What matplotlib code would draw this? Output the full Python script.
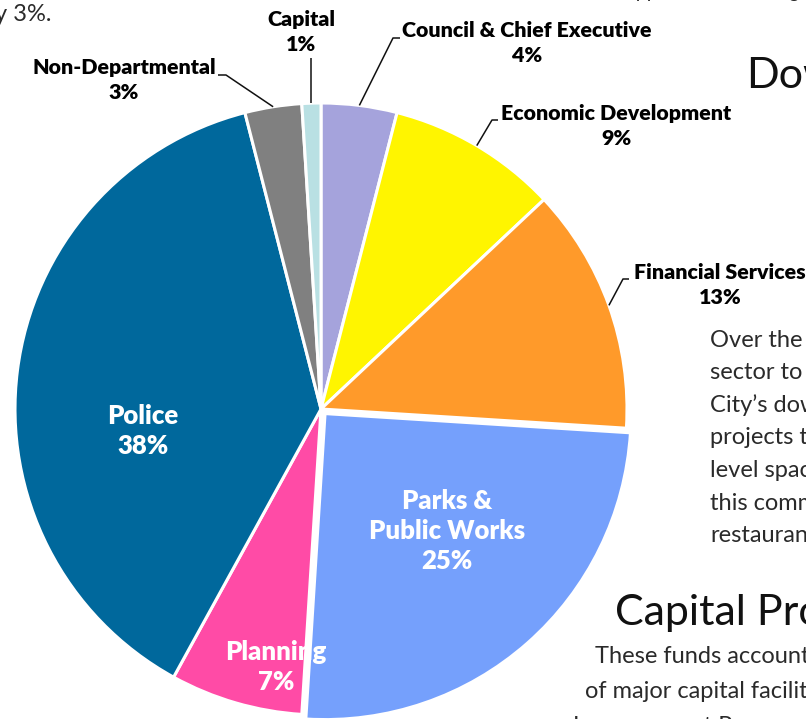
import math
import matplotlib
matplotlib.use("Agg")
import matplotlib.pyplot as plt

# Department share of the general fund budget (percent)
departments = ["Council & Chief Executive", "Economic Development", "Financial Services",
               "Parks &\nPublic Works", "Planning", "Police", "Non-Departmental", "Capital"]
shares = [4, 9, 13, 25, 7, 38, 3, 1]

colors = ["#A5A3DC", "#FFF500", "#FF9A2A", "#75A0FC", "#FF4BA6", "#00689C", "#808080", "#B9E0E3"]
explode = [0, 0, 0, 0.02, 0, 0, 0, 0]

# Canvas geometry (pixels): pie centre and radius
W, H = 806, 719
CX, CY, R = 321, 409, 306


def px(x, y):
    """Pixel position (from top-left) -> data coordinates of the pie axes."""
    return (x - CX) / R, (CY - y) / R


fig = plt.figure(figsize=(W / 100, H / 100), dpi=100)
ax = fig.add_axes([0, 0, 1, 1])

wedges, _ = ax.pie(shares, colors=colors, startangle=90, counterclock=False,
                   explode=explode, radius=1,
                   wedgeprops=dict(edgecolor="white", linewidth=2.2), frame=False)
ax.set_aspect("auto")
ax.set_xlim((0 - CX) / R, (W - CX) / R)
ax.set_ylim((CY - H) / R, CY / R)
ax.axis("off")

LABEL_FONT = dict(family="Lato", weight="heavy")
BODY_FONT = dict(family="Lato", weight="normal")

# Labels placed inside the larger slices (white)
inside = {3: (447, 531), 4: (276, 667), 5: (143, 431)}
for i, (x, y) in inside.items():
    ax.text(*px(x, y), f"{departments[i]}\n{shares[i]}%", color="white", fontsize=18.5,
            ha="center", va="center", linespacing=1.32, **LABEL_FONT)

# Labels outside the pie with leader lines: text centre, elbow, line end
outside = {
    0: ((527, 43), [(393, 38), (400, 38)]),
    1: ((616, 126), [(492, 120), (498, 120)]),
    2: ((720, 285), [(623, 279), (629, 279)]),
    6: ((124, 80), [(226, 75), (218, 75)]),
    7: ((301, 32), [None, None]),
}

total = sum(shares)
cum = 0
mids = []
for v in shares:
    mids.append(90 - 360 * (cum + v / 2) / total)
    cum += v

for i, ((tx, ty), path) in outside.items():
    ax.text(*px(tx, ty), f"{departments[i]}\n{shares[i]}%", color="black", fontsize=15.4,
            ha="center", va="center", linespacing=1.38, **LABEL_FONT)
    a = math.radians(mids[i])
    ex, ey = math.cos(a), math.sin(a)
    if path[0] is None:
        xs = [ex, ex]
        ys = [ey, px(0, 58)[1]]
    else:
        pts = [px(*p) for p in path]
        xs = [ex] + [p[0] for p in pts]
        ys = [ey] + [p[1] for p in pts]
    ax.plot(xs, ys, color="#111111", lw=1.1, solid_capstyle="butt", zorder=5)

# Surrounding page text
body_color = "#2a2a2a"
ax.text(*px(-5, 21), "y 3%.", fontsize=17, color=body_color, ha="left", va="baseline", **BODY_FONT)
ax.text(*px(626, -2), "approved this change,", fontsize=14, color=body_color,
        ha="left", va="baseline", **BODY_FONT)
ax.text(*px(746, 88), "Downtown", fontsize=31, color="#111111", ha="left", va="baseline",
        family="Lato")

para = ["Over the", "sector to", "City\u2019s downtown", "projects that", "level space",
        "this community", "restaurants"]
for k, line in enumerate(para):
    ax.text(*px(710, 347 + 32.5 * k), line, fontsize=17, color=body_color,
            ha="left", va="baseline", **BODY_FONT)

ax.text(*px(615, 625), "Capital Projects", fontsize=31, color="#111111", ha="left",
        va="baseline", family="Lato")
cap_lines = [(595, 663, "These funds account for"), (585, 698, "of major capital facilities"),
             (573, 733, "Improvement Program")]
for x, y, line in cap_lines:
    ax.text(*px(x, y), line, fontsize=17, color=body_color, ha="left", va="baseline", **BODY_FONT)

fig.savefig("out.png", dpi=100)
